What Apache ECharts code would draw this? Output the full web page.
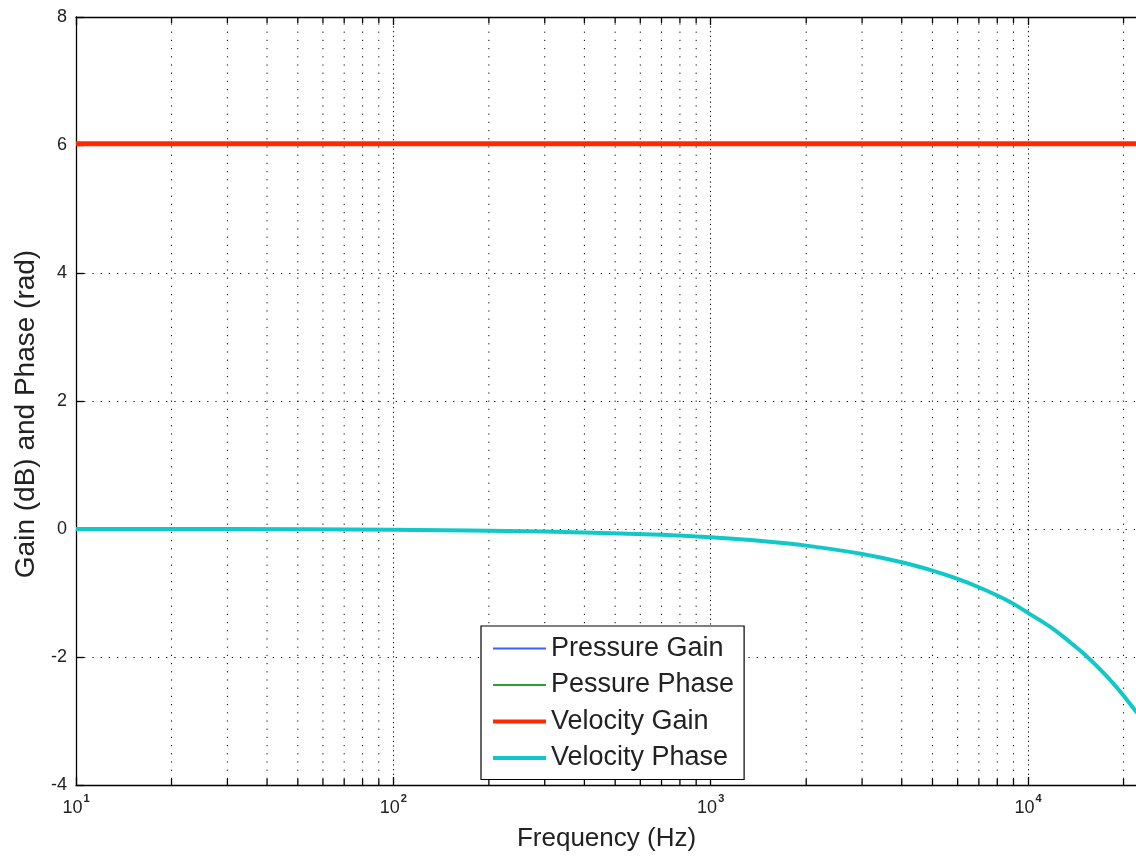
<!DOCTYPE html>
<html>
<head>
<meta charset="utf-8">
<script src="https://cdn.jsdelivr.net/npm/echarts@6/dist/echarts.min.js"></script>
<style>
html,body{margin:0;padding:0;background:#fff;}
#chart{width:1136px;height:856px;}
</style>
</head>
<body>
<div id="chart"></div>
<script>
// ---- data ----
const freqs = [10, 30, 100, 300, 700, 1000, 1500, 2000, 3000, 4000, 5000, 6000, 7000, 8000, 9000, 10000, 12000, 13500, 15000, 17000, 19000, 20500, 22050];
const velocityPhase = [0, 0, -0.01, -0.04, -0.09, -0.13, -0.195, -0.26, -0.39, -0.52, -0.65, -0.78, -0.91, -1.04, -1.17, -1.31, -1.56, -1.76, -1.95, -2.21, -2.47, -2.67, -2.87];
const velocityGain = [6.02, 6.02, 6.02, 6.02, 6.02, 6.02, 6.02, 6.02, 6.02, 6.02, 6.02, 6.02, 6.02, 6.02, 6.02, 6.02, 6.02, 6.02, 6.02, 6.02, 6.02, 6.02, 6.02];
const pressureGain = velocityGain;
const pressurePhase = velocityPhase;
const seriesNames = ['Pressure Gain', 'Pessure Phase', 'Velocity Gain', 'Velocity Phase'];
const seriesColors = ['#3f5fff', '#2ea02e', '#ff2a00', '#10c8c8'];
const seriesWidths = [2, 2, 5, 4];
const xTickValues = [10, 100, 1000, 10000];
const xTickExponents = ['1', '2', '3', '4'];
const minorTickValues = [20,30,40,50,60,70,80,90,200,300,400,500,600,700,800,900,2000,3000,4000,5000,6000,7000,8000,9000,20000];
const xMin = 10, xMax = 22050;
const yMin = -4, yMax = 8, yStep = 2;

const zip = (xs, ys) => xs.map((x, i) => [x, ys[i]]);
const FONT = 'Liberation Sans';

const chart = echarts.init(document.getElementById('chart'), null, {renderer: 'canvas'});

function minorRender(params, api) {
  const x = api.value(0);
  const pb = api.coord([x, yMin]);
  const pt = api.coord([x, yMax]);
  const dotted = {stroke: '#000', lineWidth: 1, lineDash: [1.2, 7]};
  const solid = {stroke: '#000', lineWidth: 1.3};
  return {
    type: 'group',
    silent: true,
    children: [
      {type: 'line', shape: {x1: pb[0], y1: pb[1] - 6, x2: pt[0], y2: pt[1] + 6}, style: dotted},
      {type: 'line', shape: {x1: pb[0], y1: pb[1], x2: pb[0], y2: pb[1] - 6}, style: solid},
      {type: 'line', shape: {x1: pt[0], y1: pt[1], x2: pt[0], y2: pt[1] + 6}, style: solid}
    ]
  };
}

function lineSeries(i, values, smooth) {
  return {
    name: seriesNames[i], type: 'line', data: zip(freqs, values), smooth: smooth,
    symbol: 'none', showSymbol: false,
    lineStyle: {color: seriesColors[i], width: seriesWidths[i]},
    itemStyle: {color: seriesColors[i]},
    z: seriesWidths[i] > 2 ? 4 : 3
  };
}

const option = {
  backgroundColor: '#fff',
  animation: false,
  textStyle: {fontFamily: FONT},
  grid: {left: 76, top: 17, right: -1, bottom: 71, outerBoundsMode: 'none', containLabel: false},
  legend: {
    data: seriesNames.map((n, i) => ({
      name: n,
      lineStyle: {color: seriesColors[i], width: Math.min(seriesWidths[i], 4)},
      itemStyle: {opacity: 0}
    })),
    orient: 'vertical',
    left: 481, top: 626,
    backgroundColor: '#fff',
    borderColor: '#000',
    borderWidth: 1.2,
    padding: [9, 10, 8, 10],
    itemGap: 9.5,
    itemWidth: 53,
    itemHeight: 14,
    selectedMode: false,
    itemStyle: {opacity: 0},
    textStyle: {fontFamily: FONT, fontSize: 27, lineHeight: 27, color: '#222', padding: [0, 0, 0, 0]}
  },
  xAxis: [
    {
      type: 'log', logBase: 10, min: xMin, max: xMax,
      name: 'Frequency (Hz)', nameLocation: 'middle', nameGap: 41,
      nameTextStyle: {fontFamily: FONT, fontSize: 26, color: '#222'},
      axisLine: {onZero: false, lineStyle: {color: '#000', width: 1.3}},
      axisTick: {inside: true, length: 8, lineStyle: {color: '#000', width: 1.3}},
      splitLine: {show: true, lineStyle: {color: '#000', width: 1, type: [1.2, 3.5]}},
      axisLabel: {
        margin: 8,
        formatter: function (v) {
          const i = xTickValues.findIndex(t => Math.abs(t - v) < 1e-6 * t);
          if (i < 0) return '';
          return '{b|10}{s|' + xTickExponents[i] + '}';
        },
        rich: {
          b: {fontFamily: FONT, fontSize: 18, color: '#222', verticalAlign: 'bottom', lineHeight: 24},
          s: {fontFamily: FONT, fontSize: 11, color: '#222', fontWeight: 'bold', verticalAlign: 'top', lineHeight: 24, padding: [0, 0, 12, 1]}
        }
      }
    },
    {
      type: 'log', logBase: 10, min: xMin, max: xMax, position: 'top',
      axisLine: {show: true, onZero: false, lineStyle: {color: '#000', width: 1.3}},
      axisTick: {show: true, inside: true, length: 8, lineStyle: {color: '#000', width: 1.3}},
      axisLabel: {show: false},
      splitLine: {show: false}
    }
  ],
  yAxis: {
    type: 'value', min: yMin, max: yMax, interval: yStep,
    name: 'Gain (dB) and Phase (rad)', nameLocation: 'middle', nameGap: 32,
    nameTextStyle: {fontFamily: FONT, fontSize: 28, color: '#222', padding: [0, 26, 0, 0]},
    axisLine: {show: true, onZero: false, lineStyle: {color: '#000', width: 1.3}},
    axisTick: {show: true, inside: true, length: 8, lineStyle: {color: '#000', width: 1.3}},
    axisLabel: {fontFamily: FONT, fontSize: 18, color: '#222', margin: 9},
    splitLine: {show: true, lineStyle: {color: '#000', width: 1, type: [1.2, 7]}}
  },
  series: [
    {
      type: 'custom', name: 'minor', xAxisIndex: 0, yAxisIndex: 0,
      data: minorTickValues.map(v => [v]),
      encode: {x: 0},
      renderItem: minorRender, silent: true, z: 1
    },
    lineSeries(0, pressureGain, false),
    lineSeries(1, pressurePhase, 0.3),
    lineSeries(2, velocityGain, false),
    lineSeries(3, velocityPhase, 0.3)
  ]
};
chart.setOption(option);
</script>
</body>
</html>
